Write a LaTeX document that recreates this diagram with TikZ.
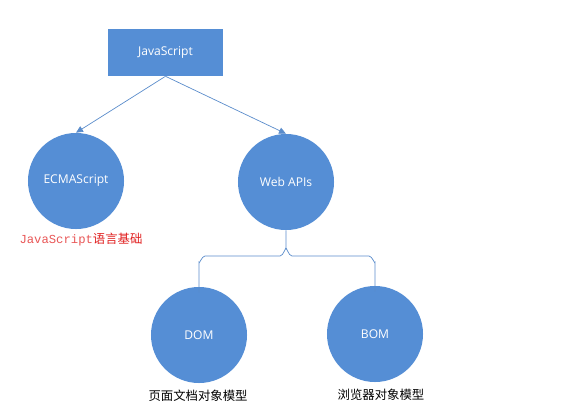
\documentclass[tikz,border=0pt]{standalone}
\usepackage{fontspec}
\setmainfont{Open Sans}
\setmonofont{Liberation Mono}
\newfontfamily\cjk{Noto Sans CJK SC}
\usepackage{xcolor}
\usepackage{tikz}
\usetikzlibrary{arrows.meta}

\definecolor{boxblue}{HTML}{558ED5}
\definecolor{lineblue}{HTML}{5A8CCB}
\definecolor{notered}{HTML}{E01E1E}

\begin{document}
\begin{tikzpicture}[x=0.025cm, y=-0.025cm,
    topic/.style={fill=boxblue, text=white, font=\fontsize{8.6}{10}\selectfont},
    area/.style={topic, circle, minimum size=2.4cm, inner sep=0pt},
    link/.style={draw=lineblue, line width=0.5pt},
    note/.style={font=\fontsize{8.8}{10}\selectfont\cjk},
]
    \useasboundingbox (0,0) rectangle (579,420);

    % javascript
    \node [topic,
        minimum width=2.875cm,
        minimum height=1.175cm,
    ] (js) at (165.5,52.5){JavaScript};

    % ecmascript and web apis
    \node [area] (ecma) at (76,181){ECMAScript};
    \node [area] (web) at (286,182){Web APIs};

    \draw[link, -{Triangle[length=5pt,width=4.5pt]}] (js.south) -- (ecma.north);
    \draw[link, -{Triangle[length=5pt,width=4.5pt]}] (js.south) -- (web.north);

    % dom and bom
    \node [area] (dom) at (199,335){DOM};
    \node [area] (bom) at (375,334){BOM};

    % brace
    \coordinate (tip) at (286,249);
    \draw[link] ([yshift=-4pt]dom.north) -- (199,262) to[out=-90,in=180] (205,256)
        -- (280,256) to[out=0,in=90] (tip) -- (web.south);
    \draw[link] ([yshift=-4pt]bom.north) -- (375,262) to[out=-90,in=0] (369,256)
        -- (292,256) to[out=180,in=90] (tip);

    % labels
    \node [note, text=notered] (ecmanote) at (81,240)
        {{\ttfamily\fontsize{8.7}{10}\selectfont\color{notered!75}JavaScript}语言基础};
    \node [note] (domnote) at (198,396){页面文档对象模型};
    \node [note] (bomnote) at (381,395){浏览器对象模型};
\end{tikzpicture}
\end{document}
